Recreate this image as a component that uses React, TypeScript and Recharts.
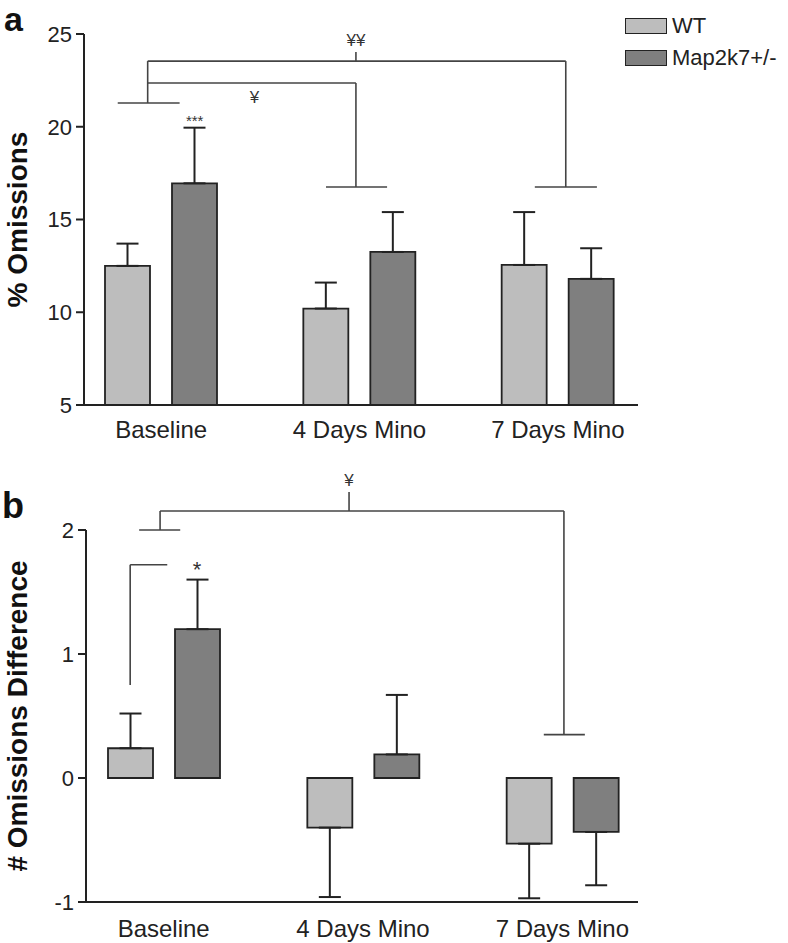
import React from "react";
import {
  BarChart,
  Bar,
  XAxis,
  YAxis,
  ErrorBar,
  ReferenceLine,
  ReferenceDot,
} from "recharts";

const categories = ["Baseline", "4 Days Mino", "7 Days Mino"];

// panel a: % omissions (mean, +SEM)
const omissionsWT = [12.5, 10.2, 12.55];
const omissionsWTErr = [1.2, 1.4, 2.85];
const omissionsMap = [16.95, 13.25, 11.8];
const omissionsMapErr = [3.0, 2.15, 1.65];
const ticksA = [5, 10, 15, 20, 25];

// panel b: # omissions difference
const diffWT = [0.24, -0.4, -0.53];
const diffWTErr = [0.28, 0.56, 0.44];
const diffMap = [1.2, 0.19, -0.435];
const diffMapErr = [0.4, 0.48, 0.43];
const ticksB = [-1, 0, 1, 2];

const FONT = '"Liberation Sans", Arial, sans-serif';
const WT_FILL = "#bdbdbd";
const MAP_FILL = "#7f7f7f";
const INK = "#222";

// error bars only point away from zero
const oneSided = (v: number, e: number) => (v >= 0 ? [0, e] : [e, 0]);

const dataA = categories.map((c, i) => ({
  name: c,
  idx: i,
  wt: omissionsWT[i],
  wtErr: oneSided(omissionsWT[i], omissionsWTErr[i]),
  map: omissionsMap[i],
  mapErr: oneSided(omissionsMap[i], omissionsMapErr[i]),
}));

const dataB = categories.map((c, i) => ({
  name: c,
  idx: i,
  wt: diffWT[i],
  wtErr: oneSided(diffWT[i], diffWTErr[i]),
  map: diffMap[i],
  mapErr: oneSided(diffMap[i], diffMapErr[i]),
}));

// significance brackets as polylines, x in category index units
const bracketsA: number[][][] = [
  [[-0.219, 21.28], [0.093, 21.28]],
  [[-0.068, 21.28], [-0.068, 23.54]],
  [[-0.068, 22.36], [0.982, 22.36], [0.982, 16.75]],
  [[0.831, 16.75], [1.139, 16.75]],
  [[-0.068, 23.54], [2.04, 23.54], [2.04, 16.75]],
  [[1.884, 16.75], [2.197, 16.75]],
  [[0.982, 23.54], [0.982, 24.03]],
];
const marksA = [
  { x: 0.982, y: 24.68, text: "¥¥", size: 17 },
  { x: 0.47, y: 21.6, text: "¥", size: 17 },
  { x: 0.169, y: 20.35, text: "***", size: 15 },
];

const bracketsB: number[][][] = [
  [[-0.168, 0.75], [-0.168, 1.72], [0.018, 1.72]],
  [[-0.123, 2.0], [0.083, 2.0]],
  [[-0.018, 2.0], [-0.018, 2.153], [2.008, 2.153], [2.008, 0.35]],
  [[1.907, 0.35], [2.113, 0.35]],
  [[0.93, 2.153], [0.93, 2.306]],
];
const marksB = [
  { x: 0.168, y: 1.68, text: "*", size: 22 },
  { x: 0.93, y: 2.4, text: "¥", size: 17 },
];

const YTitle = ({ viewBox, value }: any) => {
  const x = viewBox.x + 27;
  const y = viewBox.y + viewBox.height / 2;
  return (
    <text
      x={x}
      y={y}
      transform={`rotate(-90 ${x} ${y})`}
      textAnchor="middle"
      fontFamily={FONT}
      fontWeight="bold"
      fontSize={28}
      fill="#111"
    >
      {value}
    </text>
  );
};

function renderBrackets(list: number[][][], key: string, color: string) {
  const out: React.ReactNode[] = [];
  list.forEach((pts, i) => {
    for (let k = 0; k < pts.length - 1; k++) {
      out.push(
        <ReferenceLine
          key={`${key}-${i}-${k}`}
          xAxisId="n"
          segment={[
            { x: pts[k][0], y: pts[k][1] },
            { x: pts[k + 1][0], y: pts[k + 1][1] },
          ]}
          stroke={color}
          strokeWidth={1.6}
          ifOverflow="visible"
        />
      );
    }
  });
  return out;
}

function renderMarks(list: { x: number; y: number; text: string; size: number }[], key: string) {
  return list.map((m, i) => (
    <ReferenceDot
      key={`${key}-${i}`}
      xAxisId="n"
      x={m.x}
      y={m.y}
      r={0}
      stroke="none"
      fill="none"
      ifOverflow="visible"
      label={{
        value: m.text,
        position: "center",
        fontSize: m.size,
        fill: "#333",
        fontFamily: FONT,
      }}
    />
  ));
}

function Panel({
  data,
  height,
  margin,
  ticks,
  domain,
  title,
  yWidth,
  padding,
  tickMargin,
  brackets,
  marks,
  id,
}: any) {
  return (
    <BarChart
      width={788}
      height={height}
      data={data}
      margin={margin}
      barSize={45}
      barGap={22}
    >
      <XAxis
        dataKey="name"
        height={50}
        padding={padding}
        axisLine={{ stroke: INK, strokeWidth: 2 }}
        tickLine={false}
        tickMargin={tickMargin}
        tick={{ fill: "#222", fontSize: 24, fontFamily: FONT }}
        interval={0}
      />
      <XAxis
        xAxisId="n"
        dataKey="idx"
        type="number"
        domain={[-0.5, 2.5]}
        allowDataOverflow
        padding={padding}
        hide
      />
      <YAxis
        width={yWidth}
        domain={domain}
        ticks={ticks}
        allowDataOverflow
        axisLine={{ stroke: INK, strokeWidth: 2 }}
        tickLine={{ stroke: INK, strokeWidth: 2 }}
        tickSize={8}
        tickMargin={4}
        tick={{ fill: "#222", fontSize: 22, fontFamily: FONT }}
        label={<YTitle value={title} />}
      />
      <Bar dataKey="wt" fill={WT_FILL} stroke={INK} strokeWidth={1.8} isAnimationActive={false}>
        <ErrorBar dataKey="wtErr" width={11} stroke={INK} strokeWidth={2} direction="y" />
      </Bar>
      <Bar dataKey="map" fill={MAP_FILL} stroke={INK} strokeWidth={1.8} isAnimationActive={false}>
        <ErrorBar dataKey="mapErr" width={11} stroke={INK} strokeWidth={2} direction="y" />
      </Bar>
      {renderBrackets(brackets, id, "#444")}
      {renderMarks(marks, id)}
    </BarChart>
  );
}

export default function App() {
  return (
    <div
      style={{
        position: "relative",
        width: 788,
        height: 943,
        background: "#fff",
        fontFamily: FONT,
        overflow: "hidden",
      }}
    >
      <style>{`body{margin:0}`}</style>
      <div style={{ position: "absolute", left: 0, top: 0 }}>
        <Panel
          id="a"
          data={dataA}
          height={460}
          margin={{ top: 34, right: 150, bottom: 5, left: 0 }}
          ticks={ticksA}
          domain={[5, 25]}
          title="% Omissions"
          yWidth={84}
          padding={{ left: -22, right: -19 }}
          tickMargin={10}
          brackets={bracketsA}
          marks={marksA}
        />
      </div>
      <div style={{ position: "absolute", left: 0, top: 470 }}>
        <Panel
          id="b"
          data={dataB}
          height={473}
          margin={{ top: 60, right: 150, bottom: -9, left: 0 }}
          ticks={ticksB}
          domain={[-1, 2]}
          title="# Omissions Difference"
          yWidth={86}
          padding={{ left: -22, right: -24 }}
          tickMargin={12}
          brackets={bracketsB}
          marks={marksB}
        />
      </div>
      <div
        style={{
          position: "absolute",
          left: 4,
          top: 0,
          fontSize: 34,
          lineHeight: "38px",
          fontWeight: "bold",
          color: "#111",
        }}
      >
        a
      </div>
      <div
        style={{
          position: "absolute",
          left: 2,
          top: 496,
          fontSize: 36,
          lineHeight: "19px",
          fontWeight: "bold",
          color: "#111",
        }}
      >
        b
      </div>
      <div style={{ position: "absolute", left: 625, top: 10, fontSize: 22, color: "#222" }}>
        {[
          { label: "WT", fill: WT_FILL },
          { label: "Map2k7+/-", fill: MAP_FILL },
        ].map((it) => (
          <div
            key={it.label}
            style={{ display: "flex", alignItems: "center", height: 32 }}
          >
            <span
              style={{
                display: "inline-block",
                width: 40,
                height: 14,
                background: it.fill,
                border: `1.5px solid ${INK}`,
                marginRight: 5,
              }}
            />
            <span>{it.label}</span>
          </div>
        ))}
      </div>
    </div>
  );
}
